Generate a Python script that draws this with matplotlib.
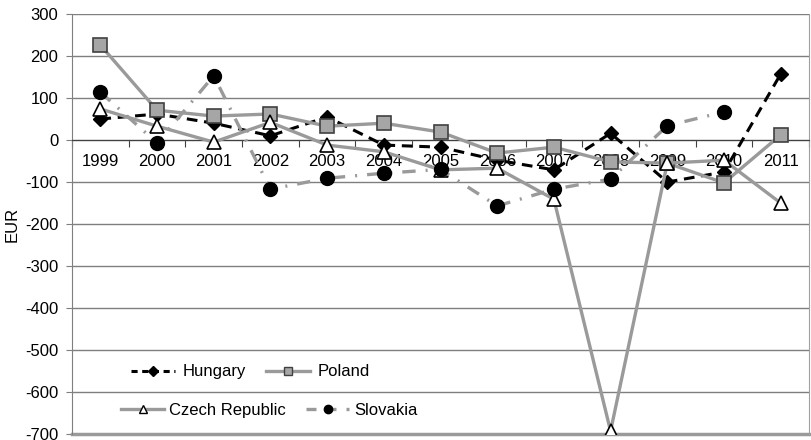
import matplotlib.pyplot as plt
from matplotlib.lines import Line2D

plt.rcParams['font.family'] = ['Liberation Sans', 'DejaVu Sans']

years = ['1999', '2000', '2001', '2002', '2003', '2004', '2005',
         '2006', '2007', '2008', '2009', '2010', '2011']

hungary = [50, 62, 40, 10, 55, -12, -17, -48, -71, 16, -100, -76, 157]
poland = [226, 71, 57, 62, 33, 40, 19, -31, -17, -52, -55, -102, 12]
czech = [74, 33, -5, 42, -12, -28, -71, -67, -141, -693, -55, -48, -150]
slovakia = [114, -7, 153, -117, -91, -79, -70, -157, -117, -93, 34, 67]

yticks = list(range(-700, 301, 100))

GRAY = '#9a9a9a'
GRID = '#7f7f7f'
FS = 12

fig = plt.figure(figsize=(8.12, 4.40), dpi=100)
ax = fig.add_axes([0.0887, 0.0136, 0.9076, 0.9545])

x = list(range(len(years)))

ax.plot(x, hungary, color='black', lw=2.2, dashes=(3.5, 2.2),
        marker='D', ms=7, mfc='black', mec='black', zorder=3, label='Hungary')
ax.plot(x, poland, color=GRAY, lw=2.4,
        marker='s', ms=10, mfc='#a6a6a6', mec='#404040', mew=1.2, zorder=4, label='Poland')
ax.plot(x, czech, color=GRAY, lw=2.4,
        marker='^', ms=10, mfc='white', mec='black', mew=1.2, zorder=5, label='Czech Republic')
ax.plot(x[:len(slovakia)], slovakia, color=GRAY, lw=2.4, dashes=(4, 3, 0.6, 3),
        marker='o', ms=10, mfc='black', mec='black', zorder=6, label='Slovakia')

ax.set_xlim(-0.5, len(years) - 0.5)
ax.set_ylim(-700, 300)
ax.set_yticks(yticks)
ax.set_yticklabels([str(v) for v in yticks], fontsize=FS)
ax.yaxis.grid(True, color=GRID, lw=1)
ax.set_axisbelow(True)

# category axis crossing at zero, ticks between categories
ax.spines['bottom'].set_position(('data', 0))
ax.spines['bottom'].set_color('#404040')
ax.set_xticks([i + 0.5 for i in range(-1, len(years))])
ax.set_xticklabels([])
ax.set_xticks(x, minor=True)
ax.set_xticklabels(years, minor=True, fontsize=FS)
ax.tick_params(axis='x', which='major', direction='out', length=5, color='#404040')
ax.tick_params(axis='x', which='minor', length=0, pad=10)
for lab in ax.get_xticklabels(minor=True):
    lab.set_zorder(10)
ax.tick_params(axis='y', direction='out', length=4, color=GRID, pad=6)

ax.spines['left'].set_color(GRID)
ax.spines['right'].set_color('#a0a0a0')
ax.spines['top'].set_visible(False)
ax.axhline(-700, color=GRAY, lw=2.5, zorder=1, clip_on=False)

ax.set_ylabel('EUR', fontsize=FS)
ax.yaxis.set_label_coords(-0.071, 0.5)

handles = {
    'Hungary': Line2D([], [], color='black', lw=2.2, dashes=(2, 1.5),
                      marker='D', ms=5, mfc='black', mec='black'),
    'Poland': Line2D([], [], color=GRAY, lw=2.4,
                     marker='s', ms=6, mfc='#a6a6a6', mec='#404040'),
    'Czech Republic': Line2D([], [], color=GRAY, lw=2.4,
                             marker='^', ms=6, mfc='white', mec='black'),
    'Slovakia': Line2D([], [], color=GRAY, lw=2.4, dashes=(3, 3),
                       marker='o', ms=6, mfc='black', mec='black'),
}

leg1 = ax.legend([handles['Hungary'], handles['Poland']], ['Hungary', 'Poland'],
                 ncol=2, frameon=False, fontsize=FS, handlelength=2.6,
                 columnspacing=1.2, handletextpad=0.5,
                 loc='center left', bbox_to_anchor=(0.060, 0.148))
ax.add_artist(leg1)
ax.legend([handles['Czech Republic'], handles['Slovakia']], ['Czech Republic', 'Slovakia'],
          ncol=2, frameon=False, fontsize=FS, handlelength=2.6,
          columnspacing=1.2, handletextpad=0.3,
          loc='center left', bbox_to_anchor=(0.046, 0.057))

fig.savefig('out.png', dpi=100)
